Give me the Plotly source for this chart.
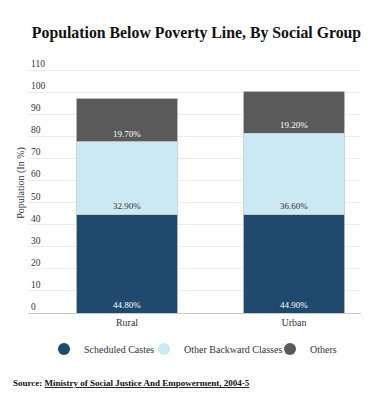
import plotly.graph_objects as go

categories = ["Rural", "Urban"]
series_names = ["Scheduled Castes", "Other Backward Classes", "Others"]
scheduled_castes = [44.8, 44.9]
other_backward = [32.9, 36.6]
others = [19.7, 19.2]
y_ticks = [0, 10, 20, 30, 40, 50, 60, 70, 80, 90, 100, 110]

series_values = [scheduled_castes, other_backward, others]
colors = ["#1f4a6e", "#cbe9f3", "#5a5a5a"]
text_colors = ["#ffffff", "#333333", "#ffffff"]
legend_widths = [55, 81, 40]

FONT = "Liberation Serif"
OFF = 8                # page body margin
W, H = 369 - OFF, 398 - OFF
Y0_PX = 313.0 - OFF    # pixel row of y=0
PX_PER_UNIT = 2.203    # pixels per y unit
Y_TOP = 118
T = int(round(Y0_PX - Y_TOP * PX_PER_UNIT))
L, R, B = 28 - OFF, 1, int(H - Y0_PX)
PLOT_H = H - T - B
PLOT_W = W - L - R

fig = go.Figure()
for name, vals, col, tcol, lw in zip(series_names, series_values, colors,
                                     text_colors, legend_widths):
    fig.add_trace(go.Bar(
        x=categories, y=vals, name=name,
        marker=dict(color=col, line=dict(color="#d0d0d0", width=0.8)),
        texttemplate="%{y:.2f}%", textposition="inside", insidetextanchor="start",
        textangle=0, constraintext="none",
        textfont=dict(family=FONT, size=9, color=tcol),
        width=0.61, showlegend=False, hoverinfo="skip",
    ))
    fig.add_trace(go.Scatter(
        x=[None], y=[None], mode="markers", name=name,
        marker=dict(color=col, size=12, symbol="circle"),
        showlegend=True, legendwidth=lw,
    ))

fig.update_layout(
    width=W, height=H,
    margin=dict(l=L, r=R, t=T, b=B),
    barmode="stack",
    plot_bgcolor="white", paper_bgcolor="white",
    font=dict(family=FONT, color="#333333", size=10),
    title=dict(
        text="<b>Population Below Poverty Line, By Social Group</b>",
        x=(196.5 - OFF) / W, xanchor="center", xref="container",
        y=1 - (32 - OFF) / H, yanchor="middle", yref="container",
        font=dict(family=FONT, size=15.8, color="#111111"),
    ),
    legend=dict(
        orientation="h", x=(44 - OFF - L) / PLOT_W, xanchor="left",
        y=(Y0_PX - (349 - OFF)) / PLOT_H, yanchor="middle",
        font=dict(family=FONT, size=10, color="#333333"),
        itemwidth=30, traceorder="normal",
    ),
    xaxis=dict(
        range=[-0.593, 1.443], showgrid=False, automargin=False,
        showline=True, linecolor="#c8c8c8", linewidth=1,
        ticks="", tickfont=dict(family=FONT, size=10, color="#333333"),
    ),
    yaxis=dict(
        range=[0, Y_TOP], tickvals=y_ticks, automargin=False,
        showgrid=True, gridcolor="#ececec", gridwidth=1,
        zeroline=False, showline=False,
        ticklabelposition="inside top",
        tickfont=dict(family=FONT, size=9.5, color="#333333"),
        title=dict(text="Population (In %)", standoff=4,
                   font=dict(family=FONT, size=10, color="#333333")),
    ),
    annotations=[dict(
        text="<b>Source: <u>Ministry of Social Justice And Empowerment, 2004-5</u></b>",
        xref="paper", yref="paper",
        x=(11 - OFF - L) / PLOT_W, xanchor="left",
        y=(Y0_PX - (383 - OFF)) / PLOT_H, yanchor="middle",
        showarrow=False, font=dict(family=FONT, size=9, color="#111111"),
    )],
)

fig.write_html("out.html")
